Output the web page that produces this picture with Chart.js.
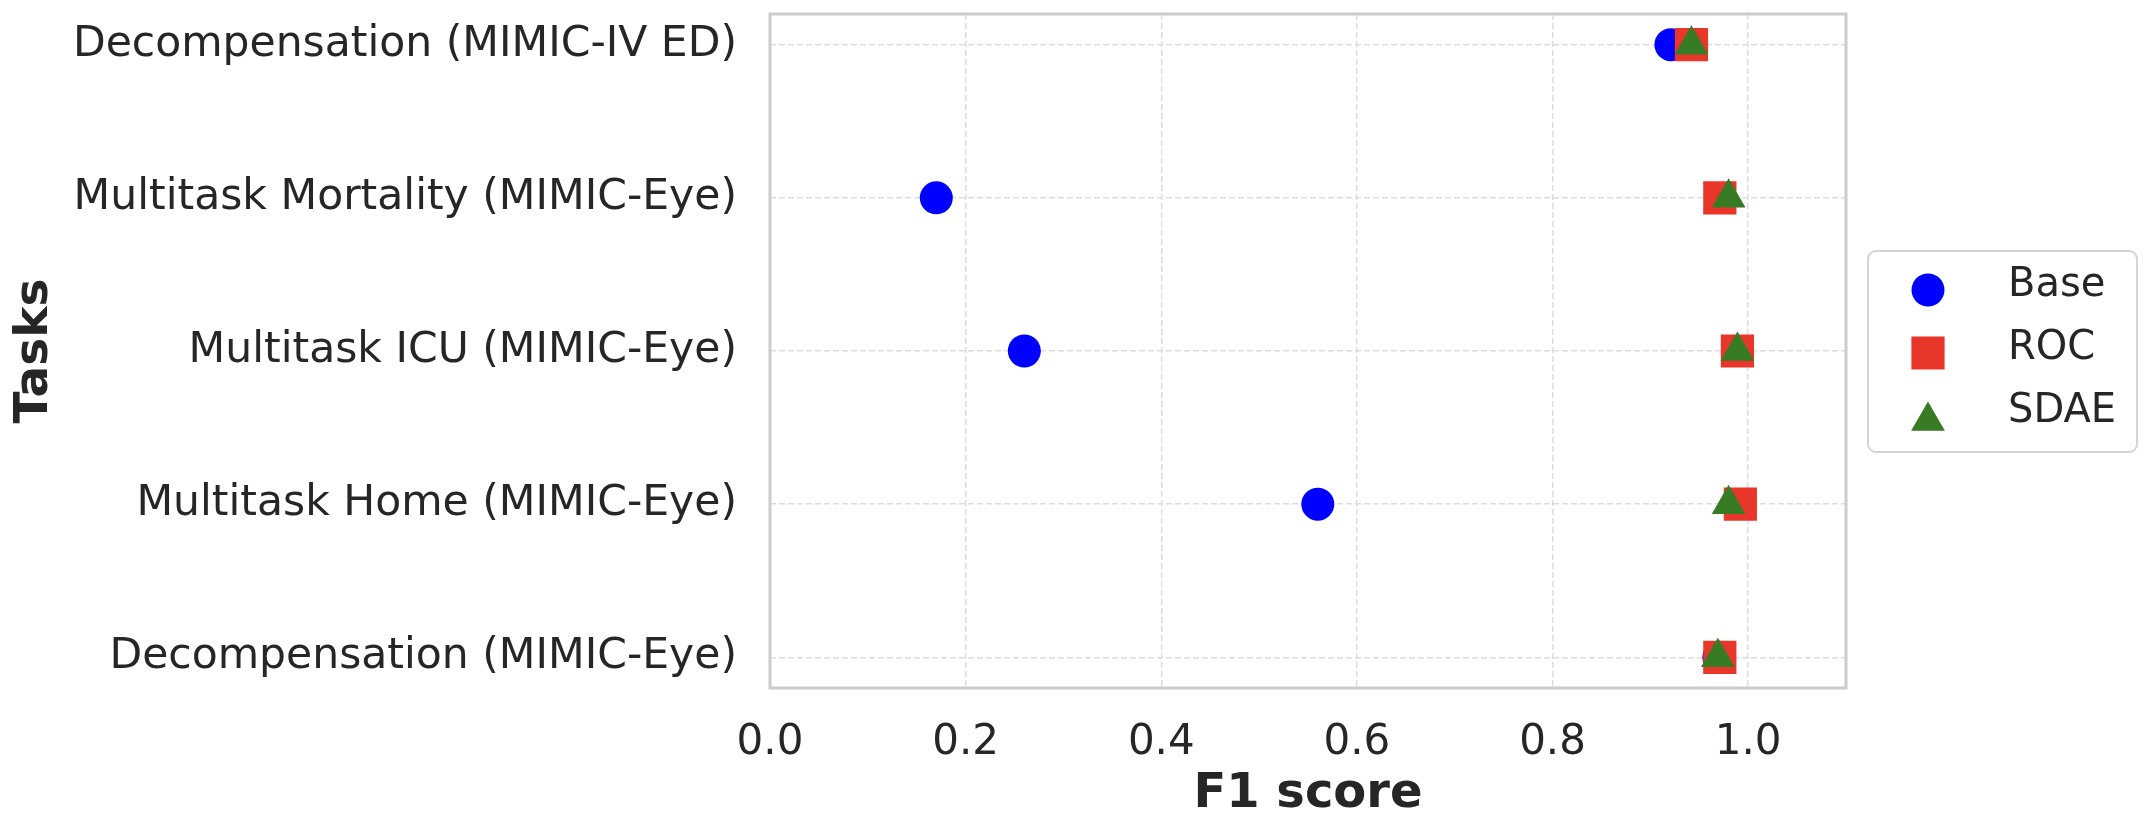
<!DOCTYPE html>
<html>
<head>
<meta charset="utf-8">
<title>F1 score by task</title>
<script src="https://cdn.jsdelivr.net/npm/chart.js@4.4.0/dist/chart.umd.min.js"></script>
<style>
  html, body { margin: 0; padding: 0; background: #ffffff; }
</style>
</head>
<body>
<canvas id="chartTasks" width="2152" height="830"></canvas>
<script>
// ---- data ----
const tasks = [
    'Decompensation (MIMIC-IV ED)',
    'Multitask Mortality (MIMIC-Eye)',
    'Multitask ICU (MIMIC-Eye)',
    'Multitask Home (MIMIC-Eye)',
    'Decompensation (MIMIC-Eye)'
];
const baseF1 = [0.921, 0.17, 0.26, 0.56, 0.97];
const rocF1  = [0.942, 0.971, 0.989, 0.992, 0.971];
const sdaeF1 = [0.942, 0.98, 0.989, 0.98, 0.969];
const xTicks = [0.0, 0.2, 0.4, 0.6, 0.8, 1.0];

const textColor = '#262626';
Chart.defaults.font.family = '"DejaVu Sans", sans-serif';

const toPoints = (values) => values.map((v, i) => ({ x: v, y: i }));

// light grey box round the plot area
const framePlugin = {
    id: 'frame',
    beforeDatasetsDraw(chart) {
        const { ctx, chartArea } = chart;
        ctx.save();
        ctx.strokeStyle = '#cccccc';
        ctx.lineWidth = 3;
        ctx.strokeRect(chartArea.left, chartArea.top, chartArea.right - chartArea.left, chartArea.bottom - chartArea.top);
        ctx.restore();
    }
};

// legend outside the plot, with a rounded frame
const boxLegend = {
    id: 'boxLegend',
    afterDraw(chart) {
        const ctx = chart.ctx;
        ctx.save();
        ctx.strokeStyle = '#d4d4d4';
        ctx.lineWidth = 2;
        ctx.beginPath();
        if (ctx.roundRect) ctx.roundRect(1868, 251, 269, 201, 8);
        else ctx.rect(1868, 251, 269, 201);
        ctx.stroke();

        ctx.font = '40px "DejaVu Sans"';
        ctx.textBaseline = 'middle';
        ctx.textAlign = 'left';
        chart.data.datasets.forEach((ds, i) => {
            const y = 290 + i * 63;
            const r = ds.pointRadius;
            const my = ds.pointStyle === 'triangle' ? y + r / 4 : y;
            ctx.fillStyle = ds.backgroundColor;
            Chart.helpers.drawPoint(ctx, { pointStyle: ds.pointStyle, radius: r, rotation: 0, borderWidth: 0 }, 1928, my);
            ctx.fillStyle = textColor;
            ctx.fillText(ds.label, 2008, y - 4);
        });
        ctx.restore();
    }
};

const chartTasks = document.querySelector('#chartTasks').getContext('2d');

new Chart(chartTasks, {
    type: 'scatter',
    data: {
        datasets: [
            {
                label: 'Base',
                data: toPoints(baseF1),
                pointStyle: 'circle',
                pointRadius: 16.5,
                pointHoverRadius: 16.5,
                backgroundColor: '#0000ff',
                borderColor: '#0000ff',
                borderWidth: 0,
                order: 3
            },
            {
                label: 'ROC',
                data: toPoints(rocF1),
                pointStyle: 'rect',
                pointRadius: 23.5,
                pointHoverRadius: 23.5,
                backgroundColor: '#e8372a',
                borderColor: '#e8372a',
                borderWidth: 0,
                order: 2
            },
            {
                label: 'SDAE',
                data: toPoints(sdaeF1),
                pointStyle: 'triangle',
                pointRadius: 19.5,
                pointHoverRadius: 19.5,
                backgroundColor: '#377b24',
                borderColor: '#377b24',
                borderWidth: 0,
                order: 1
            }
        ]
    },
    options: {
        responsive: false,
        animation: false,
        devicePixelRatio: 1,
        layout: {
            autoPadding: false,
            padding: { top: 14, right: 306, bottom: 0, left: 0 }
        },
        plugins: {
            legend: { display: false },
            tooltip: { enabled: false }
        },
        scales: {
            x: {
                type: 'linear',
                min: 0,
                max: 1.1,
                afterBuildTicks: (scale) => { scale.ticks = xTicks.map(v => ({ value: v })); },
                afterFit: (scale) => {
                    scale.height = 142;
                    scale.paddingLeft = 0;
                    scale.paddingRight = 0;
                },
                ticks: {
                    callback: (v) => Number(v).toFixed(1),
                    font: { size: 42 },
                    color: textColor,
                    padding: 30,
                    maxRotation: 0
                },
                grid: { color: '#dddddd', lineWidth: 1.5, drawTicks: false },
                border: { display: false, dash: [6, 3] },
                title: {
                    display: true,
                    text: 'F1 score',
                    color: textColor,
                    font: { size: 48, weight: 'bold' },
                    padding: { top: 0, bottom: 7 }
                }
            },
            y: {
                type: 'linear',
                min: -0.2,
                max: 4.2,
                reverse: true,
                afterBuildTicks: (scale) => { scale.ticks = tasks.map((t, i) => ({ value: i })); },
                afterFit: (scale) => {
                    scale.width = 770;
                    scale.paddingTop = 0;
                    scale.paddingBottom = 0;
                },
                ticks: {
                    callback: (v) => tasks[v] ?? '',
                    font: { size: 42.5 },
                    color: textColor,
                    padding: 33
                },
                grid: { color: '#dddddd', lineWidth: 1.5, drawTicks: false },
                border: { display: false, dash: [6, 3] },
                title: {
                    display: true,
                    text: 'Tasks',
                    color: textColor,
                    font: { size: 47, weight: 'bold' },
                    padding: { top: 7, bottom: 0 }
                }
            }
        }
    },
    plugins: [framePlugin, boxLegend]
});
</script>
</body>
</html>
